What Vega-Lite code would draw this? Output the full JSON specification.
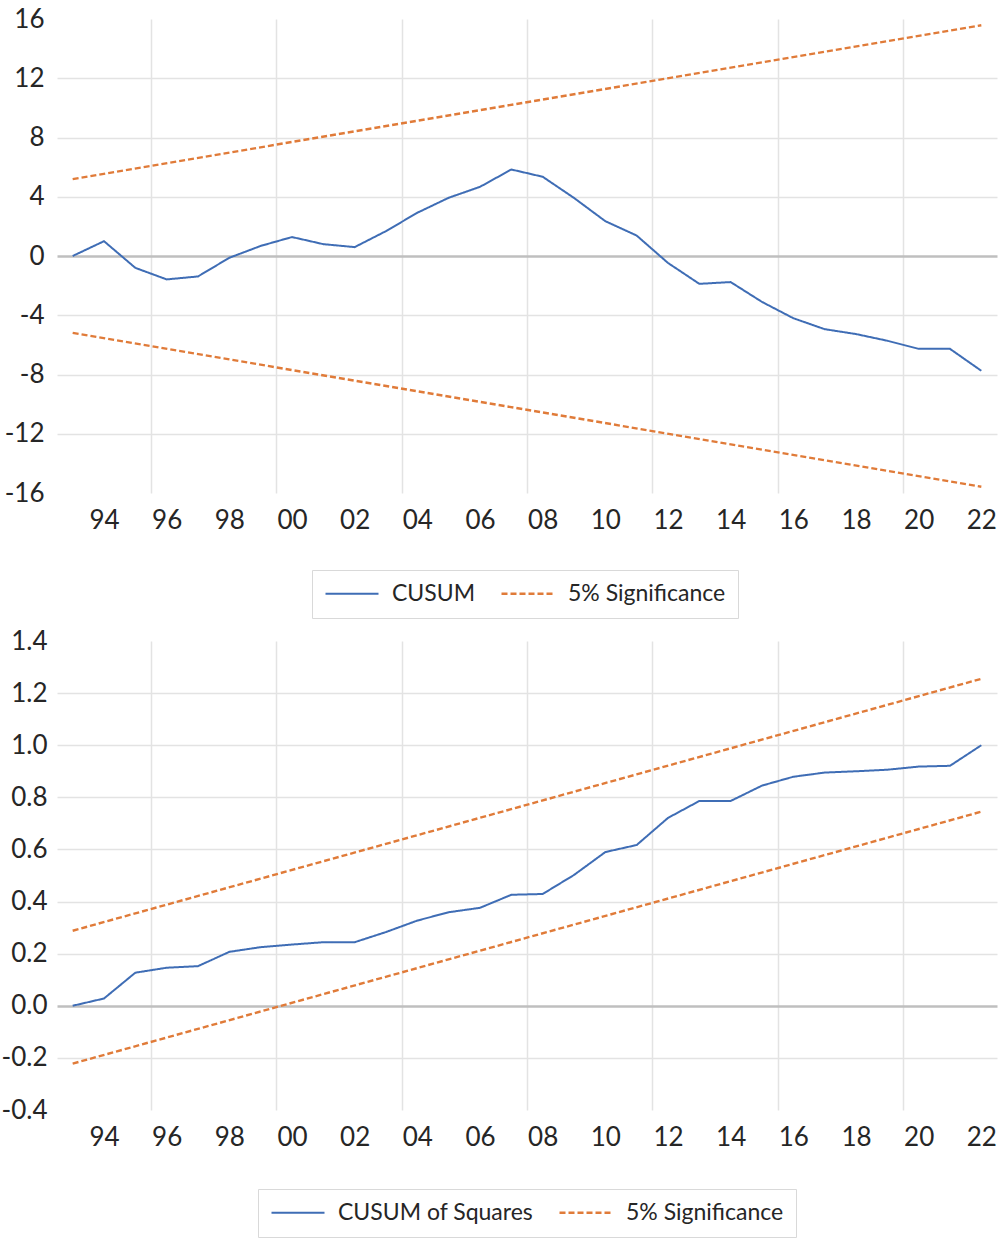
{
  "$schema": "https://vega.github.io/schema/vega-lite/v6.json",
  "padding": {"top": 6, "left": 1, "right": 2, "bottom": 2},
  "spacing": 9,
  "config": {
    "font": "Lato",
    "view": {"stroke": null},
    "axis": {"labelFont": "Lato", "labelFontSize": 26, "labelColor": "#262626", "ticks": false, "domain": false, "title": null, "labelOverlap": false, "labelFlush": false},
    "legend": {"labelFont": "Lato", "labelFontSize": 23, "labelColor": "#262626", "labelLimit": 400, "orient": "none", "direction": "horizontal", "strokeColor": "#d9d9d9", "padding": 12, "symbolType": "M-1,0H4.3", "symbolSize": 400, "symbolStrokeWidth": 1.6, "labelOffset": 45, "columnPadding": 20, "title": null}
  },
  "datasets": {
    "cusum": [
      {"year": 1993, "value": 0, "series": "CUSUM", "line": "stat"},
      {"year": 1994, "value": 1.0, "series": "CUSUM", "line": "stat"},
      {"year": 1995, "value": -0.8, "series": "CUSUM", "line": "stat"},
      {"year": 1996, "value": -1.58, "series": "CUSUM", "line": "stat"},
      {"year": 1997, "value": -1.38, "series": "CUSUM", "line": "stat"},
      {"year": 1998, "value": -0.12, "series": "CUSUM", "line": "stat"},
      {"year": 1999, "value": 0.68, "series": "CUSUM", "line": "stat"},
      {"year": 2000, "value": 1.28, "series": "CUSUM", "line": "stat"},
      {"year": 2001, "value": 0.8, "series": "CUSUM", "line": "stat"},
      {"year": 2002, "value": 0.6, "series": "CUSUM", "line": "stat"},
      {"year": 2003, "value": 1.68, "series": "CUSUM", "line": "stat"},
      {"year": 2004, "value": 2.92, "series": "CUSUM", "line": "stat"},
      {"year": 2005, "value": 3.93, "series": "CUSUM", "line": "stat"},
      {"year": 2006, "value": 4.67, "series": "CUSUM", "line": "stat"},
      {"year": 2007, "value": 5.84, "series": "CUSUM", "line": "stat"},
      {"year": 2008, "value": 5.35, "series": "CUSUM", "line": "stat"},
      {"year": 2009, "value": 3.92, "series": "CUSUM", "line": "stat"},
      {"year": 2010, "value": 2.35, "series": "CUSUM", "line": "stat"},
      {"year": 2011, "value": 1.38, "series": "CUSUM", "line": "stat"},
      {"year": 2012, "value": -0.47, "series": "CUSUM", "line": "stat"},
      {"year": 2013, "value": -1.88, "series": "CUSUM", "line": "stat"},
      {"year": 2014, "value": -1.76, "series": "CUSUM", "line": "stat"},
      {"year": 2015, "value": -3.1, "series": "CUSUM", "line": "stat"},
      {"year": 2016, "value": -4.2, "series": "CUSUM", "line": "stat"},
      {"year": 2017, "value": -4.94, "series": "CUSUM", "line": "stat"},
      {"year": 2018, "value": -5.27, "series": "CUSUM", "line": "stat"},
      {"year": 2019, "value": -5.72, "series": "CUSUM", "line": "stat"},
      {"year": 2020, "value": -6.27, "series": "CUSUM", "line": "stat"},
      {"year": 2021, "value": -6.27, "series": "CUSUM", "line": "stat"},
      {"year": 2022, "value": -7.75, "series": "CUSUM", "line": "stat"},
      {"year": 1993, "value": 5.19, "series": "5% Significance", "line": "upper"},
      {"year": 2022, "value": 15.58, "series": "5% Significance", "line": "upper"},
      {"year": 1993, "value": -5.19, "series": "5% Significance", "line": "lower"},
      {"year": 2022, "value": -15.58, "series": "5% Significance", "line": "lower"}
    ],
    "cusumsq": [
      {"year": 1993, "value": 0.0, "series": "CUSUM of Squares", "line": "stat"},
      {"year": 1994, "value": 0.028, "series": "CUSUM of Squares", "line": "stat"},
      {"year": 1995, "value": 0.127, "series": "CUSUM of Squares", "line": "stat"},
      {"year": 1996, "value": 0.146, "series": "CUSUM of Squares", "line": "stat"},
      {"year": 1997, "value": 0.152, "series": "CUSUM of Squares", "line": "stat"},
      {"year": 1998, "value": 0.207, "series": "CUSUM of Squares", "line": "stat"},
      {"year": 1999, "value": 0.225, "series": "CUSUM of Squares", "line": "stat"},
      {"year": 2000, "value": 0.235, "series": "CUSUM of Squares", "line": "stat"},
      {"year": 2001, "value": 0.244, "series": "CUSUM of Squares", "line": "stat"},
      {"year": 2002, "value": 0.244, "series": "CUSUM of Squares", "line": "stat"},
      {"year": 2003, "value": 0.283, "series": "CUSUM of Squares", "line": "stat"},
      {"year": 2004, "value": 0.327, "series": "CUSUM of Squares", "line": "stat"},
      {"year": 2005, "value": 0.359, "series": "CUSUM of Squares", "line": "stat"},
      {"year": 2006, "value": 0.376, "series": "CUSUM of Squares", "line": "stat"},
      {"year": 2007, "value": 0.426, "series": "CUSUM of Squares", "line": "stat"},
      {"year": 2008, "value": 0.429, "series": "CUSUM of Squares", "line": "stat"},
      {"year": 2009, "value": 0.502, "series": "CUSUM of Squares", "line": "stat"},
      {"year": 2010, "value": 0.59, "series": "CUSUM of Squares", "line": "stat"},
      {"year": 2011, "value": 0.617, "series": "CUSUM of Squares", "line": "stat"},
      {"year": 2012, "value": 0.721, "series": "CUSUM of Squares", "line": "stat"},
      {"year": 2013, "value": 0.786, "series": "CUSUM of Squares", "line": "stat"},
      {"year": 2014, "value": 0.786, "series": "CUSUM of Squares", "line": "stat"},
      {"year": 2015, "value": 0.845, "series": "CUSUM of Squares", "line": "stat"},
      {"year": 2016, "value": 0.879, "series": "CUSUM of Squares", "line": "stat"},
      {"year": 2017, "value": 0.895, "series": "CUSUM of Squares", "line": "stat"},
      {"year": 2018, "value": 0.9, "series": "CUSUM of Squares", "line": "stat"},
      {"year": 2019, "value": 0.906, "series": "CUSUM of Squares", "line": "stat"},
      {"year": 2020, "value": 0.918, "series": "CUSUM of Squares", "line": "stat"},
      {"year": 2021, "value": 0.921, "series": "CUSUM of Squares", "line": "stat"},
      {"year": 2022, "value": 1.0, "series": "CUSUM of Squares", "line": "stat"},
      {"year": 1993, "value": 0.288, "series": "5% Significance", "line": "upper"},
      {"year": 2022, "value": 1.255, "series": "5% Significance", "line": "upper"},
      {"year": 1993, "value": -0.222, "series": "5% Significance", "line": "lower"},
      {"year": 2022, "value": 0.745, "series": "5% Significance", "line": "lower"}
    ]
  },
  "vconcat": [
    {
      "width": 940,
      "height": 474,
      "data": {"name": "cusum"},
      "mark": {"type": "line"},
      "encoding": {
        "x": {
          "field": "year", "type": "quantitative",
          "scale": {"domain": [1992.5, 2022.5], "nice": false, "zero": false},
          "axis": {
            "values": [1994, 1995.5, 1996, 1998, 1999.5, 2000, 2002, 2003.5, 2004, 2006, 2007.5, 2008, 2010, 2011.5, 2012, 2014, 2015.5, 2016, 2018, 2019.5, 2020, 2022],
            "labelExpr": "datum.value % 1 === 0 ? format(datum.value % 100, '02d') : ''",
            "labelPadding": 14,
            "grid": true,
            "gridColor": "#e3e3e3",
            "gridWidth": 1.5,
            "gridOpacity": {"condition": {"test": "datum.value % 1 !== 0", "value": 1}, "value": 0}
          }
        },
        "y": {
          "field": "value", "type": "quantitative",
          "scale": {"domain": [-16, 16], "nice": false},
          "axis": {
            "values": [-16, -12, -8, -4, 0, 4, 8, 12, 16],
            "labelExpr": "(datum.value < 0 ? '-' : '') + format(abs(datum.value), 'd')",
            "labelPadding": 13,
            "grid": true,
            "gridWidth": {"condition": {"test": "datum.value === 0", "value": 2.5}, "value": 1.5},
            "gridColor": {"condition": {"test": "datum.value === 0", "value": "#bfbfbf"}, "value": "#e3e3e3"},
            "gridOpacity": {"condition": {"test": "abs(datum.value) < 15", "value": 1}, "value": 0}
          }
        },
        "color": {
          "field": "series", "type": "nominal",
          "scale": {"domain": ["CUSUM", "5% Significance"], "range": ["#3f6db5", "#e07b39"]},
          "legend": {"legendX": 255, "legendY": 551}
        },
        "strokeDash": {
          "field": "series", "type": "nominal",
          "scale": {"domain": ["CUSUM", "5% Significance"], "range": [[1, 0], [6, 3]]},
          "legend": {"legendX": 255, "legendY": 551}
        },
        "strokeWidth": {
          "field": "series", "type": "nominal",
          "scale": {"domain": ["CUSUM", "5% Significance"], "range": [2, 2.4]},
          "legend": null
        },
        "detail": {"field": "line", "type": "nominal"}
      }
    },
    {
      "width": 940,
      "height": 469,
      "data": {"name": "cusumsq"},
      "mark": {"type": "line"},
      "encoding": {
        "x": {
          "field": "year", "type": "quantitative",
          "scale": {"domain": [1992.5, 2022.5], "nice": false, "zero": false},
          "axis": {
            "values": [1994, 1995.5, 1996, 1998, 1999.5, 2000, 2002, 2003.5, 2004, 2006, 2007.5, 2008, 2010, 2011.5, 2012, 2014, 2015.5, 2016, 2018, 2019.5, 2020, 2022],
            "labelExpr": "datum.value % 1 === 0 ? format(datum.value % 100, '02d') : ''",
            "labelPadding": 14,
            "grid": true,
            "gridColor": "#e3e3e3",
            "gridWidth": 1.5,
            "gridOpacity": {"condition": {"test": "datum.value % 1 !== 0", "value": 1}, "value": 0}
          }
        },
        "y": {
          "field": "value", "type": "quantitative",
          "scale": {"domain": [-0.4, 1.4], "nice": false, "zero": false},
          "axis": {
            "values": [-0.4, -0.2, 0, 0.2, 0.4, 0.6, 0.8, 1.0, 1.2, 1.4],
            "labelExpr": "(datum.value < 0 ? '-' : '') + format(abs(datum.value), '.1f')",
            "labelPadding": 10,
            "grid": true,
            "gridWidth": {"condition": {"test": "datum.value === 0", "value": 2.5}, "value": 1.5},
            "gridColor": {"condition": {"test": "datum.value === 0", "value": "#bfbfbf"}, "value": "#e3e3e3"},
            "gridOpacity": {"condition": {"test": "datum.value > -0.35 && datum.value < 1.35", "value": 1}, "value": 0}
          }
        },
        "color": {
          "field": "series", "type": "nominal",
          "scale": {"domain": ["CUSUM of Squares", "5% Significance"], "range": ["#3f6db5", "#e07b39"]},
          "legend": {"legendX": 201, "legendY": 548}
        },
        "strokeDash": {
          "field": "series", "type": "nominal",
          "scale": {"domain": ["CUSUM of Squares", "5% Significance"], "range": [[1, 0], [6, 3]]},
          "legend": {"legendX": 201, "legendY": 548}
        },
        "strokeWidth": {
          "field": "series", "type": "nominal",
          "scale": {"domain": ["CUSUM of Squares", "5% Significance"], "range": [2, 2.4]},
          "legend": null
        },
        "detail": {"field": "line", "type": "nominal"}
      }
    }
  ],
  "resolve": {"scale": {"color": "independent", "strokeDash": "independent", "strokeWidth": "independent"}, "legend": {"color": "independent", "strokeDash": "independent"}}
}
